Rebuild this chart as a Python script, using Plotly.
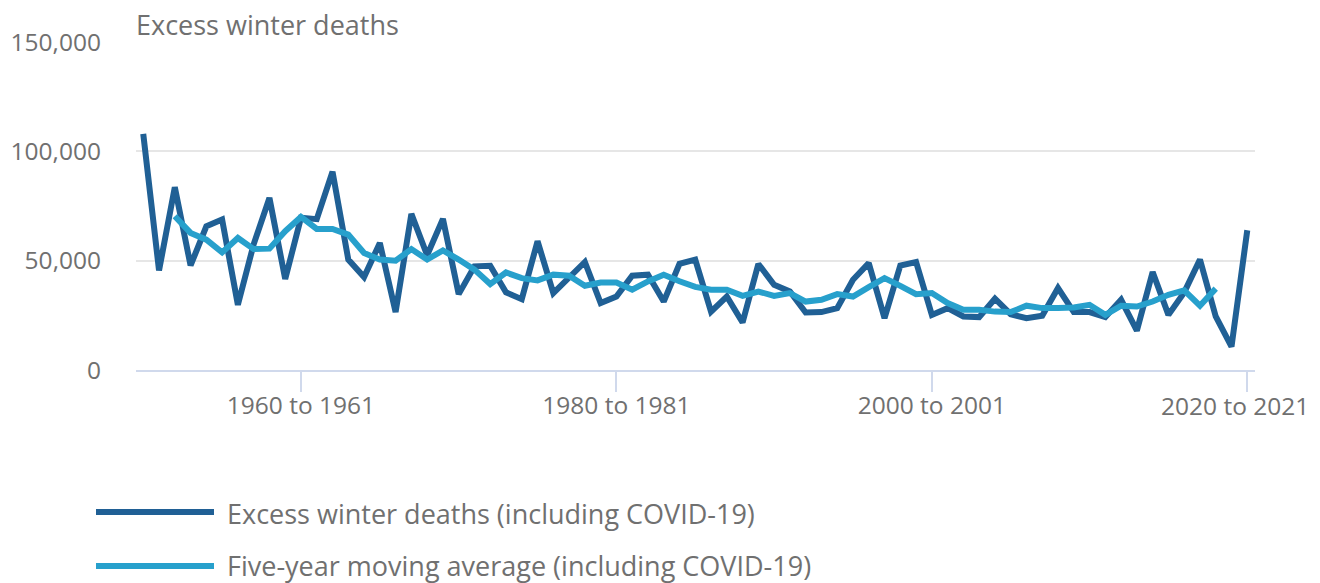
import plotly.graph_objects as go

# ---- data ----
start_years = list(range(1950, 2021))
categories = [f"{y} to {y + 1}" for y in start_years]

excess_deaths = [
    108000, 45500, 83600, 47800, 65700, 68800, 29800, 57500, 78700, 41600,
    69600, 69000, 90700, 50500, 42500, 58100, 26500, 71400, 52500, 69100,
    34700, 47400, 47700, 35500, 32400, 58900, 35200, 42000, 49400, 30600,
    33600, 43100, 43600, 31300, 48600, 50500, 26700, 33600, 21700, 48500,
    39000, 35900, 26300, 26500, 28300, 41300, 48900, 23700, 47800, 49400,
    25200, 28300, 24500, 24200, 32600, 25500, 23700, 24800, 37500, 26500,
    26500, 24200, 32100, 18000, 44800, 25200, 35500, 50500, 24500, 10700,
    63900,
]

# five-year centred moving average: 1952 to 1953 ... 2018 to 2019
ma_categories = categories[2:69]
moving_average = [
    70300, 62700, 59600, 53800, 60400, 55300, 55500, 63500, 70000, 64500,
    64500, 61900, 53500, 50500, 50000, 55300, 50500, 54700, 50500, 45900,
    39300, 44600, 42000, 41000, 43600, 43100, 38500, 40000, 40000, 36700,
    40500, 43600, 40600, 38000, 36700, 36700, 33900, 35900, 33900, 35200,
    31300, 32100, 34700, 33600, 37900, 42000, 38500, 34700, 35200, 30600,
    27500, 27500, 26700, 26500, 29400, 28300, 28300, 28600, 29800, 25200,
    29400, 29000, 31300, 34400, 36400, 29400, 37200,
]

tick_labels = ["1960 to 1961", "1980 to 1981", "2000 to 2001", "2020 to 2021"]
y_ticks = [0, 50000, 100000, 150000]

series_names = [
    "Excess winter deaths (including COVID-19)",
    "Five-year moving average (including COVID-19)",
]
DARK = "#206095"
LIGHT = "#27a0cc"
TEXT = "#707070"
AXIS = "#d0d9ec"
FONT = "Open Sans"

# the last tick label is drawn as an annotation nudged left to stay on the page
tick_text = tick_labels[:-1] + [""]

fig = go.Figure()
fig.add_trace(go.Scatter(x=categories, y=excess_deaths, mode="lines",
                         name=series_names[0], line=dict(color=DARK, width=6),
                         showlegend=False))
fig.add_trace(go.Scatter(x=ma_categories, y=moving_average, mode="lines",
                         name=series_names[1], line=dict(color=LIGHT, width=6),
                         showlegend=False))

# page body margin is removed below, so figure pixel = screen pixel
W, H = 1320, 583
ML, MR, MT, MB = 136, 65, 42, 213
pw, ph = W - ML - MR, H - MT - MB


def px_x(screen_x):
    return (screen_x - ML) / pw


def px_y(screen_y):
    return (H - MB - screen_y) / ph


# last x tick label
fig.add_annotation(xref="paper", yref="paper", x=px_x(1235), y=px_y(405),
                   text=tick_labels[-1], showarrow=False,
                   xanchor="center", yanchor="middle", borderpad=0,
                   font=dict(family=FONT, size=24.5, color=TEXT))

# custom legend (long line keys)
legend_rows = [(512, 513.5, DARK, series_names[0]), (566, 565, LIGHT, series_names[1])]
for ly, ty, col, label in legend_rows:
    fig.add_shape(type="line", xref="paper", yref="paper",
                  x0=px_x(96), x1=px_x(214), y0=px_y(ly), y1=px_y(ly),
                  line=dict(color=col, width=6))
    fig.add_annotation(xref="paper", yref="paper", x=px_x(226), y=px_y(ty),
                       text=label, showarrow=False, xanchor="left", yanchor="middle",
                       borderpad=0,
                       font=dict(family=FONT, size=27, color=TEXT))

# chart title
fig.add_annotation(xref="paper", yref="paper", x=px_x(135), y=px_y(24.5),
                   text="Excess winter deaths", showarrow=False,
                   xanchor="left", yanchor="middle", borderpad=0,
                   font=dict(family=FONT, size=27, color=TEXT))

fig.update_layout(
    width=W, height=H,
    margin=dict(l=ML, r=MR, t=MT, b=MB, autoexpand=False),
    plot_bgcolor="white", paper_bgcolor="white",
    font=dict(family=FONT, size=24, color=TEXT),
    showlegend=False,
    xaxis=dict(
        type="category", automargin=False,
        categoryorder="array", categoryarray=categories,
        range=[-0.46, 70.49],
        tickmode="array", tickvals=tick_labels, ticktext=tick_text,
        showgrid=False, showline=True, linecolor=AXIS, linewidth=2,
        ticks="outside", ticklen=20, tickwidth=2, tickcolor=AXIS,
        ticklabelstandoff=-7,
        tickfont=dict(family=FONT, size=24.5, color=TEXT),
        zeroline=False,
    ),
    yaxis=dict(
        automargin=False,
        range=[0, 150000],
        tickmode="array", tickvals=y_ticks,
        tickformat=",", showgrid=True, gridcolor="#e6e6e6", gridwidth=2,
        zeroline=False, showline=False, ticks="",
        ticklabelstandoff=34,
        tickfont=dict(family=FONT, size=24.5, color=TEXT),
    ),
)

fig.write_html("out.html",
               config={"displayModeBar": False},
               post_script="document.body.style.margin='0';document.body.style.overflow='hidden';")
